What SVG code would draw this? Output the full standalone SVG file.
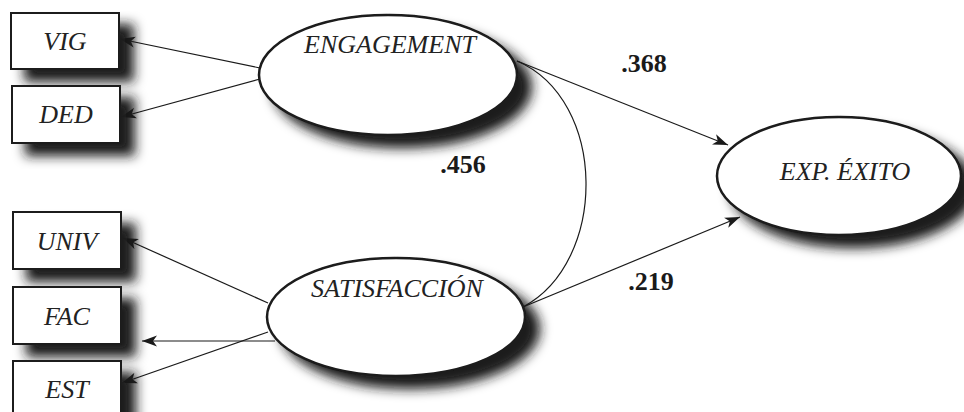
<svg xmlns="http://www.w3.org/2000/svg" width="964" height="412" viewBox="0 0 964 412">
<style>
.box{fill:#fff;stroke:#1a1a1a;stroke-width:2}
.ell{fill:#fff;stroke:#1a1a1a;stroke-width:2.5}
.lbl{font-family:'Liberation Serif','Times New Roman','DejaVu Serif',serif;font-style:italic;font-size:26px;fill:#222;text-anchor:middle}
.num{font-family:'Liberation Serif','Times New Roman','DejaVu Serif',serif;font-weight:bold;font-size:26px;fill:#1a1a1a;text-anchor:middle}
.con{fill:none;stroke:#1a1a1a;stroke-width:1.2}
</style>
<defs>
<filter id="sh" x="-25%" y="-25%" width="160%" height="170%">
<feGaussianBlur in="SourceAlpha" stdDeviation="6"/>
<feOffset dx="14" dy="12" result="b"/>
<feFlood flood-color="#1a1a1a"/>
<feComposite operator="in" in2="b"/>
<feMerge><feMergeNode/><feMergeNode in="SourceGraphic"/></feMerge>
</filter>
<marker id="ah" markerWidth="16" markerHeight="12" refX="15" refY="6" orient="auto" markerUnits="userSpaceOnUse">
<path d="M0,0.5 L15,6 L0,11.5 L4,6 z" fill="#1a1a1a"/>
</marker>
</defs>
<g id="connectors">
<line class="con" x1="260" y1="68" x2="120" y2="39" marker-end="url(#ah)"/>
<line class="con" x1="260" y1="79" x2="121" y2="117" marker-end="url(#ah)"/>
<line class="con" x1="268" y1="303" x2="123" y2="238" marker-end="url(#ah)"/>
<line class="con" x1="275" y1="341" x2="142" y2="341" marker-end="url(#ah)"/>
<line class="con" x1="268" y1="332" x2="122" y2="383" marker-end="url(#ah)"/>
<line class="con" x1="517" y1="61" x2="728" y2="145" marker-end="url(#ah)"/>
<line class="con" x1="523" y1="307" x2="740" y2="217" marker-end="url(#ah)"/>
<path class="con" d="M517,61 C608,100 608,262 523,307"/>
</g>
<g id="VIG"><rect class="box" x="11" y="13" width="108" height="56" filter="url(#sh)"/><text class="lbl" x="65" y="50">VIG</text></g>
<g id="DED"><rect class="box" x="12" y="86" width="108" height="57" filter="url(#sh)"/><text class="lbl" x="66" y="123">DED</text></g>
<g id="UNIV"><rect class="box" x="13" y="212" width="108" height="57" filter="url(#sh)"/><text class="lbl" x="67" y="250">UNIV</text></g>
<g id="FAC"><rect class="box" x="13" y="287" width="108" height="57" filter="url(#sh)"/><text class="lbl" x="67" y="325">FAC</text></g>
<g id="EST"><rect class="box" x="13" y="361" width="108" height="57" filter="url(#sh)"/><text class="lbl" x="67" y="398">EST</text></g>
<g id="ENGAGEMENT"><ellipse class="ell" cx="388" cy="75" rx="129" ry="60" filter="url(#sh)"/><text class="lbl" x="390" y="53">ENGAGEMENT</text></g>
<g id="SATISFACCION"><ellipse class="ell" cx="396" cy="317" rx="129" ry="59" filter="url(#sh)"/><text class="lbl" x="397" y="297">SATISFACCIÓN</text></g>
<g id="EXP_EXITO"><ellipse class="ell" cx="839" cy="176" rx="122" ry="59" filter="url(#sh)"/><text class="lbl" x="845" y="180">EXP. ÉXITO</text></g>
<g id="labels">
<text class="num" x="644" y="72">.368</text>
<text class="num" x="463" y="173">.456</text>
<text class="num" x="651" y="290">.219</text>
</g>
</svg>
